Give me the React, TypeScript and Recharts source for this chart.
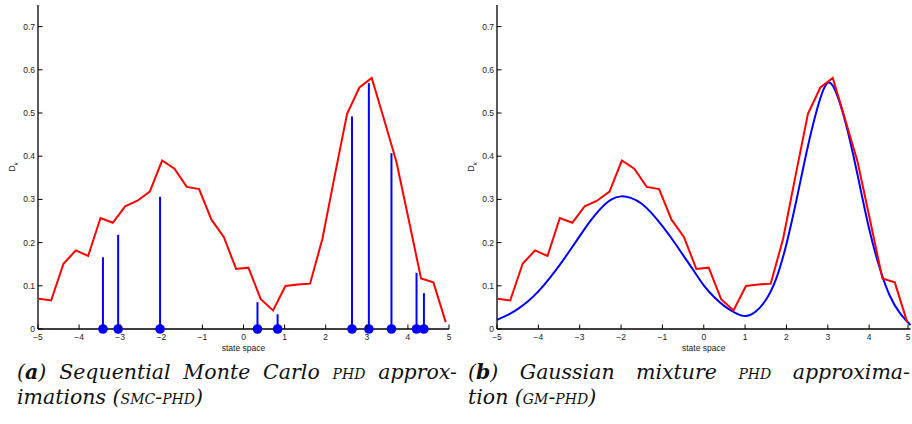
import {
  ComposedChart,
  Line,
  Scatter,
  XAxis,
  YAxis,
} from "recharts";

// red: shared histogram-ish PHD estimate (same in both panels)
const redX = [
  -4.98, -4.68, -4.38, -4.08, -3.78, -3.48, -3.18, -2.88, -2.58, -2.28, -1.98, -1.68,
  -1.38, -1.08, -0.78, -0.48, -0.18, 0.12, 0.42, 0.72, 1.02, 1.32, 1.62, 1.92, 2.22,
  2.52, 2.82, 3.12, 3.42, 3.72, 4.02, 4.32, 4.62, 4.92,
];
const redY = [
  0.07, 0.066, 0.151, 0.182, 0.169, 0.257, 0.246, 0.284, 0.297, 0.318, 0.39, 0.371,
  0.329, 0.324, 0.253, 0.213, 0.139, 0.142, 0.069, 0.043, 0.0995, 0.103, 0.105, 0.209,
  0.355, 0.498, 0.559, 0.581, 0.485, 0.387, 0.253, 0.117, 0.108, 0.016,
];

// blue stems: SMC particles
const stemX = [-3.42, -3.05, -2.03, 0.34, 0.83, 2.64, 3.05, 3.6, 4.21, 4.39];
const stemY = [0.166, 0.218, 0.306, 0.062, 0.034, 0.492, 0.569, 0.407, 0.13, 0.083];

// blue curve: gaussian mixture
const gmX = [
  -5, -4.75, -4.5, -4.25, -4, -3.75, -3.5, -3.25, -3, -2.75, -2.5, -2.25, -2, -1.75,
  -1.5, -1.25, -1, -0.75, -0.5, -0.25, 0, 0.25, 0.5, 0.75, 1, 1.25, 1.5, 1.75, 2, 2.25,
  2.5, 2.75, 3, 3.25, 3.5, 3.75, 4, 4.25, 4.5, 4.75, 5,
];
const gmY = [
  0.021, 0.032, 0.046, 0.064, 0.087, 0.115, 0.146, 0.18, 0.215, 0.249, 0.278, 0.299,
  0.307, 0.303, 0.29, 0.267, 0.238, 0.206, 0.171, 0.136, 0.101, 0.074, 0.053, 0.038,
  0.03, 0.04, 0.067, 0.116, 0.197, 0.302, 0.415, 0.512, 0.57, 0.535, 0.451, 0.343,
  0.232, 0.143, 0.077, 0.036, 0.009,
];

const xTicks = [-5, -4, -3, -2, -1, 0, 1, 2, 3, 4, 5];
const yTicks = [0, 0.1, 0.2, 0.3, 0.4, 0.5, 0.6, 0.7];

const redData = redX.map((x, i) => ({ x, y: redY[i] }));
const gmData = gmX.map((x, i) => ({ x, y: gmY[i] }));
const stemBase = stemX.map((x) => ({ x, y: 0 }));

const TICK_FONT = "'Liberation Sans', Arial, sans-serif";
const INWARD = 4.5;

const fmtX = (v: number) => (v < 0 ? `\u2212${-v}` : `${v}`);

function BottomTick(props: any) {
  const { x, y, payload } = props;
  return (
    <g>
      <line x1={x} x2={x} y1={y} y2={y - INWARD} stroke="#000" strokeWidth={1} />
      <text x={x} y={y + 11} textAnchor="middle" fontSize={8.5} fontFamily={TICK_FONT} fill="#222">
        {fmtX(payload.value)}
      </text>
    </g>
  );
}

function LeftTick(props: any) {
  const { x, y, payload } = props;
  return (
    <g>
      <line x1={x} x2={x + INWARD} y1={y} y2={y} stroke="#000" strokeWidth={1} />
      <text x={x - 3} y={y} dy="0.35em" textAnchor="end" fontSize={8.5} fontFamily={TICK_FONT} fill="#222">
        {payload.value}
      </text>
    </g>
  );
}

function TopTick(props: any) {
  const { x, y } = props;
  return <line x1={x} x2={x} y1={y} y2={y + INWARD} stroke="#000" strokeWidth={1} />;
}

function RightTick(props: any) {
  const { x, y } = props;
  return <line x1={x} x2={x - INWARD} y1={y} y2={y} stroke="#000" strokeWidth={1} />;
}

function XLabel(props: any) {
  const { viewBox } = props;
  if (!viewBox) return null;
  return (
    <text
      x={viewBox.x + viewBox.width / 2}
      y={viewBox.y + 21.5}
      textAnchor="middle"
      fontSize={8.5}
      fontFamily={TICK_FONT}
      fill="#222"
    >
      state space
    </text>
  );
}

function YLabel(props: any) {
  const { viewBox } = props;
  if (!viewBox) return null;
  const cx = viewBox.x + 12;
  const cy = viewBox.y + viewBox.height / 2;
  return (
    <text
      x={cx}
      y={cy}
      transform={`rotate(-90 ${cx} ${cy})`}
      textAnchor="middle"
      dy="0.35em"
      fontSize={9}
      fontFamily={TICK_FONT}
      fill="#222"
    >
      D
      <tspan fontSize={6} dy={2.5}>
        k
      </tspan>
    </text>
  );
}

function Panel({ width, right, left, children }: any) {
  return (
    <div style={{ position: "absolute", left, top: 0 }}>
      <ComposedChart width={width} height={360} margin={{ top: 5, right, bottom: 0, left: 0 }}>
        <XAxis
          xAxisId={0}
          dataKey="x"
          type="number"
          domain={[-5, 5]}
          ticks={xTicks}
          height={31}
          tickSize={0}
          tickMargin={0}
          tickLine={false}
          tick={<BottomTick />}
          axisLine={{ stroke: "#000", strokeWidth: 1.3 }}
          label={<XLabel />}
        />
        <XAxis
          xAxisId="top"
          orientation="top"
          dataKey="x"
          type="number"
          domain={[-5, 5]}
          ticks={xTicks}
          height={0}
          tickSize={0}
          tickMargin={0}
          tickLine={false}
          tick={<TopTick />}
          allowDataOverflow
          axisLine={{ stroke: "#000", strokeWidth: 1.3 }}
        />
        <YAxis
          yAxisId={0}
          type="number"
          domain={[0, 0.75]}
          ticks={yTicks}
          width={38}
          tickSize={0}
          tickMargin={0}
          tickLine={false}
          tick={<LeftTick />}
          axisLine={{ stroke: "#000", strokeWidth: 1.3 }}
          label={<YLabel />}
        />
        <YAxis
          yAxisId="right"
          orientation="right"
          type="number"
          domain={[0, 0.75]}
          ticks={yTicks}
          width={0}
          tickSize={0}
          tickMargin={0}
          tickLine={false}
          tick={<RightTick />}
          allowDataOverflow
          axisLine={{ stroke: "#000", strokeWidth: 1.3 }}
        />
        {children}
      </ComposedChart>
    </div>
  );
}

const captionStyle: any = {
  position: "absolute",
  fontFamily: "'DejaVu Serif', serif",
  fontStyle: "italic",
  fontSize: 20.5,
  lineHeight: "25px",
  color: "#111",
  whiteSpace: "nowrap",
};

export default function App() {
  return (
    <div style={{ position: "absolute", left: 0, top: 0, width: 912, height: 424, background: "#fff", overflow: "hidden" }}>
      <Panel width={460} right={11} left={0}>
        <Line
          data={redData}
          dataKey="y"
          type="linear"
          stroke="#ff0000"
          strokeWidth={2}
          dot={false}
          isAnimationActive={false}
        />
        {stemX.map((sx, i) => (
          <Line
            key={sx}
            data={[
              { x: sx, y: 0 },
              { x: sx, y: stemY[i] },
            ]}
            dataKey="y"
            type="linear"
            stroke="#0000ff"
            strokeWidth={2}
            dot={false}
            isAnimationActive={false}
          />
        ))}
        <Scatter
          data={stemBase}
          dataKey="y"
          fill="#0000ff"
          isAnimationActive={false}
          shape={(p: any) => <circle cx={p.cx} cy={p.cy} r={4.8} fill="#0000ff" />}
        />
      </Panel>
      <Panel width={453} right={1.5} left={459}>
        <Line
          data={gmData}
          dataKey="y"
          type="natural"
          stroke="#0000ff"
          strokeWidth={2}
          dot={false}
          isAnimationActive={false}
        />
        <Line
          data={redData}
          dataKey="y"
          type="linear"
          stroke="#ff0000"
          strokeWidth={2}
          dot={false}
          isAnimationActive={false}
        />
      </Panel>

      <div style={{ ...captionStyle, left: 17, top: 360, width: 440 }}>
        <div style={{ textAlign: "justify", textAlignLast: "justify" }}>
          (<b>a</b>) Sequential Monte Carlo <span style={{ fontVariant: "small-caps" }}>phd</span> approx-
        </div>
        <div>
          imations (<span style={{ fontVariant: "small-caps" }}>smc-phd</span>)
        </div>
      </div>
      <div style={{ ...captionStyle, left: 468, top: 360, width: 442 }}>
        <div style={{ textAlign: "justify", textAlignLast: "justify" }}>
          (<b>b</b>) Gaussian mixture <span style={{ fontVariant: "small-caps" }}>phd</span> approxima-
        </div>
        <div>
          tion (<span style={{ fontVariant: "small-caps" }}>gm-phd</span>)
        </div>
      </div>
    </div>
  );
}
